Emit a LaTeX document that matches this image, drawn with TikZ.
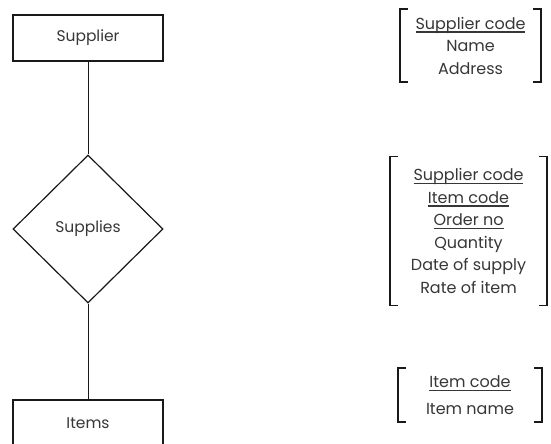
\documentclass[tikz,border=0pt]{standalone}
\usepackage{fontspec}
\setmainfont{Poppins}
\usepackage{tikz}
\usetikzlibrary{shapes.geometric, positioning}
\definecolor{erline}{RGB}{25,25,25}
\definecolor{ertext}{RGB}{55,55,55}
\newcommand{\keyfield}[1]{\setbox0\hbox{#1}\rlap{\copy0}\raisebox{-3.5pt}{\rule{\wd0}{1.5pt}}}
\tikzset{
  entity/.style={rectangle, draw=erline, line width=1.5pt,
    minimum width=150pt, minimum height=46pt,
    font=\fontsize{15.5}{18}\selectfont, text=ertext},
  relation/.style={diamond, draw=erline, line width=1.2pt,
    minimum width=150pt, minimum height=148pt, inner sep=0pt,
    font=\fontsize{15.5}{18}\selectfont, text=ertext},
  attrlist/.style={align=center, inner sep=0pt,
    font=\fontsize{16}{22.5}\selectfont, text=ertext},
  bracket/.style={draw=erline, line width=1.5pt},
  link/.style={draw=erline, line width=1pt}
}
\begin{document}
\begin{tikzpicture}[x=1pt, y=-1pt]
  \useasboundingbox (0,0) rectangle (551,444);
  % Entities and relationship
  \node[entity] (supplier) at (88,38) {Supplier};
  \node[relation] (supplies) at (88,229) {Supplies};
  \node[entity] (items) at (88,423) {Items};
  \draw[link] (supplier) -- (supplies);
  \draw[link] (supplies) -- (items);

  % Attribute lists
  \node[attrlist, minimum width=141pt, minimum height=73pt] (supattr) at (470.5,45.5)
    {\keyfield{Supplier code}\\Name\\Address};
  \node[attrlist, minimum width=157pt, minimum height=149pt] (supplyattr) at (468.5,231)
    {\keyfield{Supplier code}\\\keyfield{Item code}\\\keyfield{Order no}\\Quantity\\Date of supply\\Rate of item};
  \node[attrlist, minimum width=144pt, minimum height=54pt] (itemattr) at (470,395)
    {\keyfield{Item code}\\[4pt]Item name};

  % Brackets
  \draw[bracket] ([xshift=8pt]supattr.north west) -| (supattr.south west) -- ++(8,0);
  \draw[bracket] ([xshift=-8pt]supattr.north east) -| (supattr.south east) -- ++(-8,0);
  \draw[bracket] ([xshift=8pt]supplyattr.north west) -| (supplyattr.south west) -- ++(8,0);
  \draw[bracket] ([xshift=-8pt]supplyattr.north east) -| (supplyattr.south east) -- ++(-8,0);
  \draw[bracket] ([xshift=8pt]itemattr.north west) -| (itemattr.south west) -- ++(8,0);
  \draw[bracket] ([xshift=-8pt]itemattr.north east) -| (itemattr.south east) -- ++(-8,0);
\end{tikzpicture}
\end{document}
